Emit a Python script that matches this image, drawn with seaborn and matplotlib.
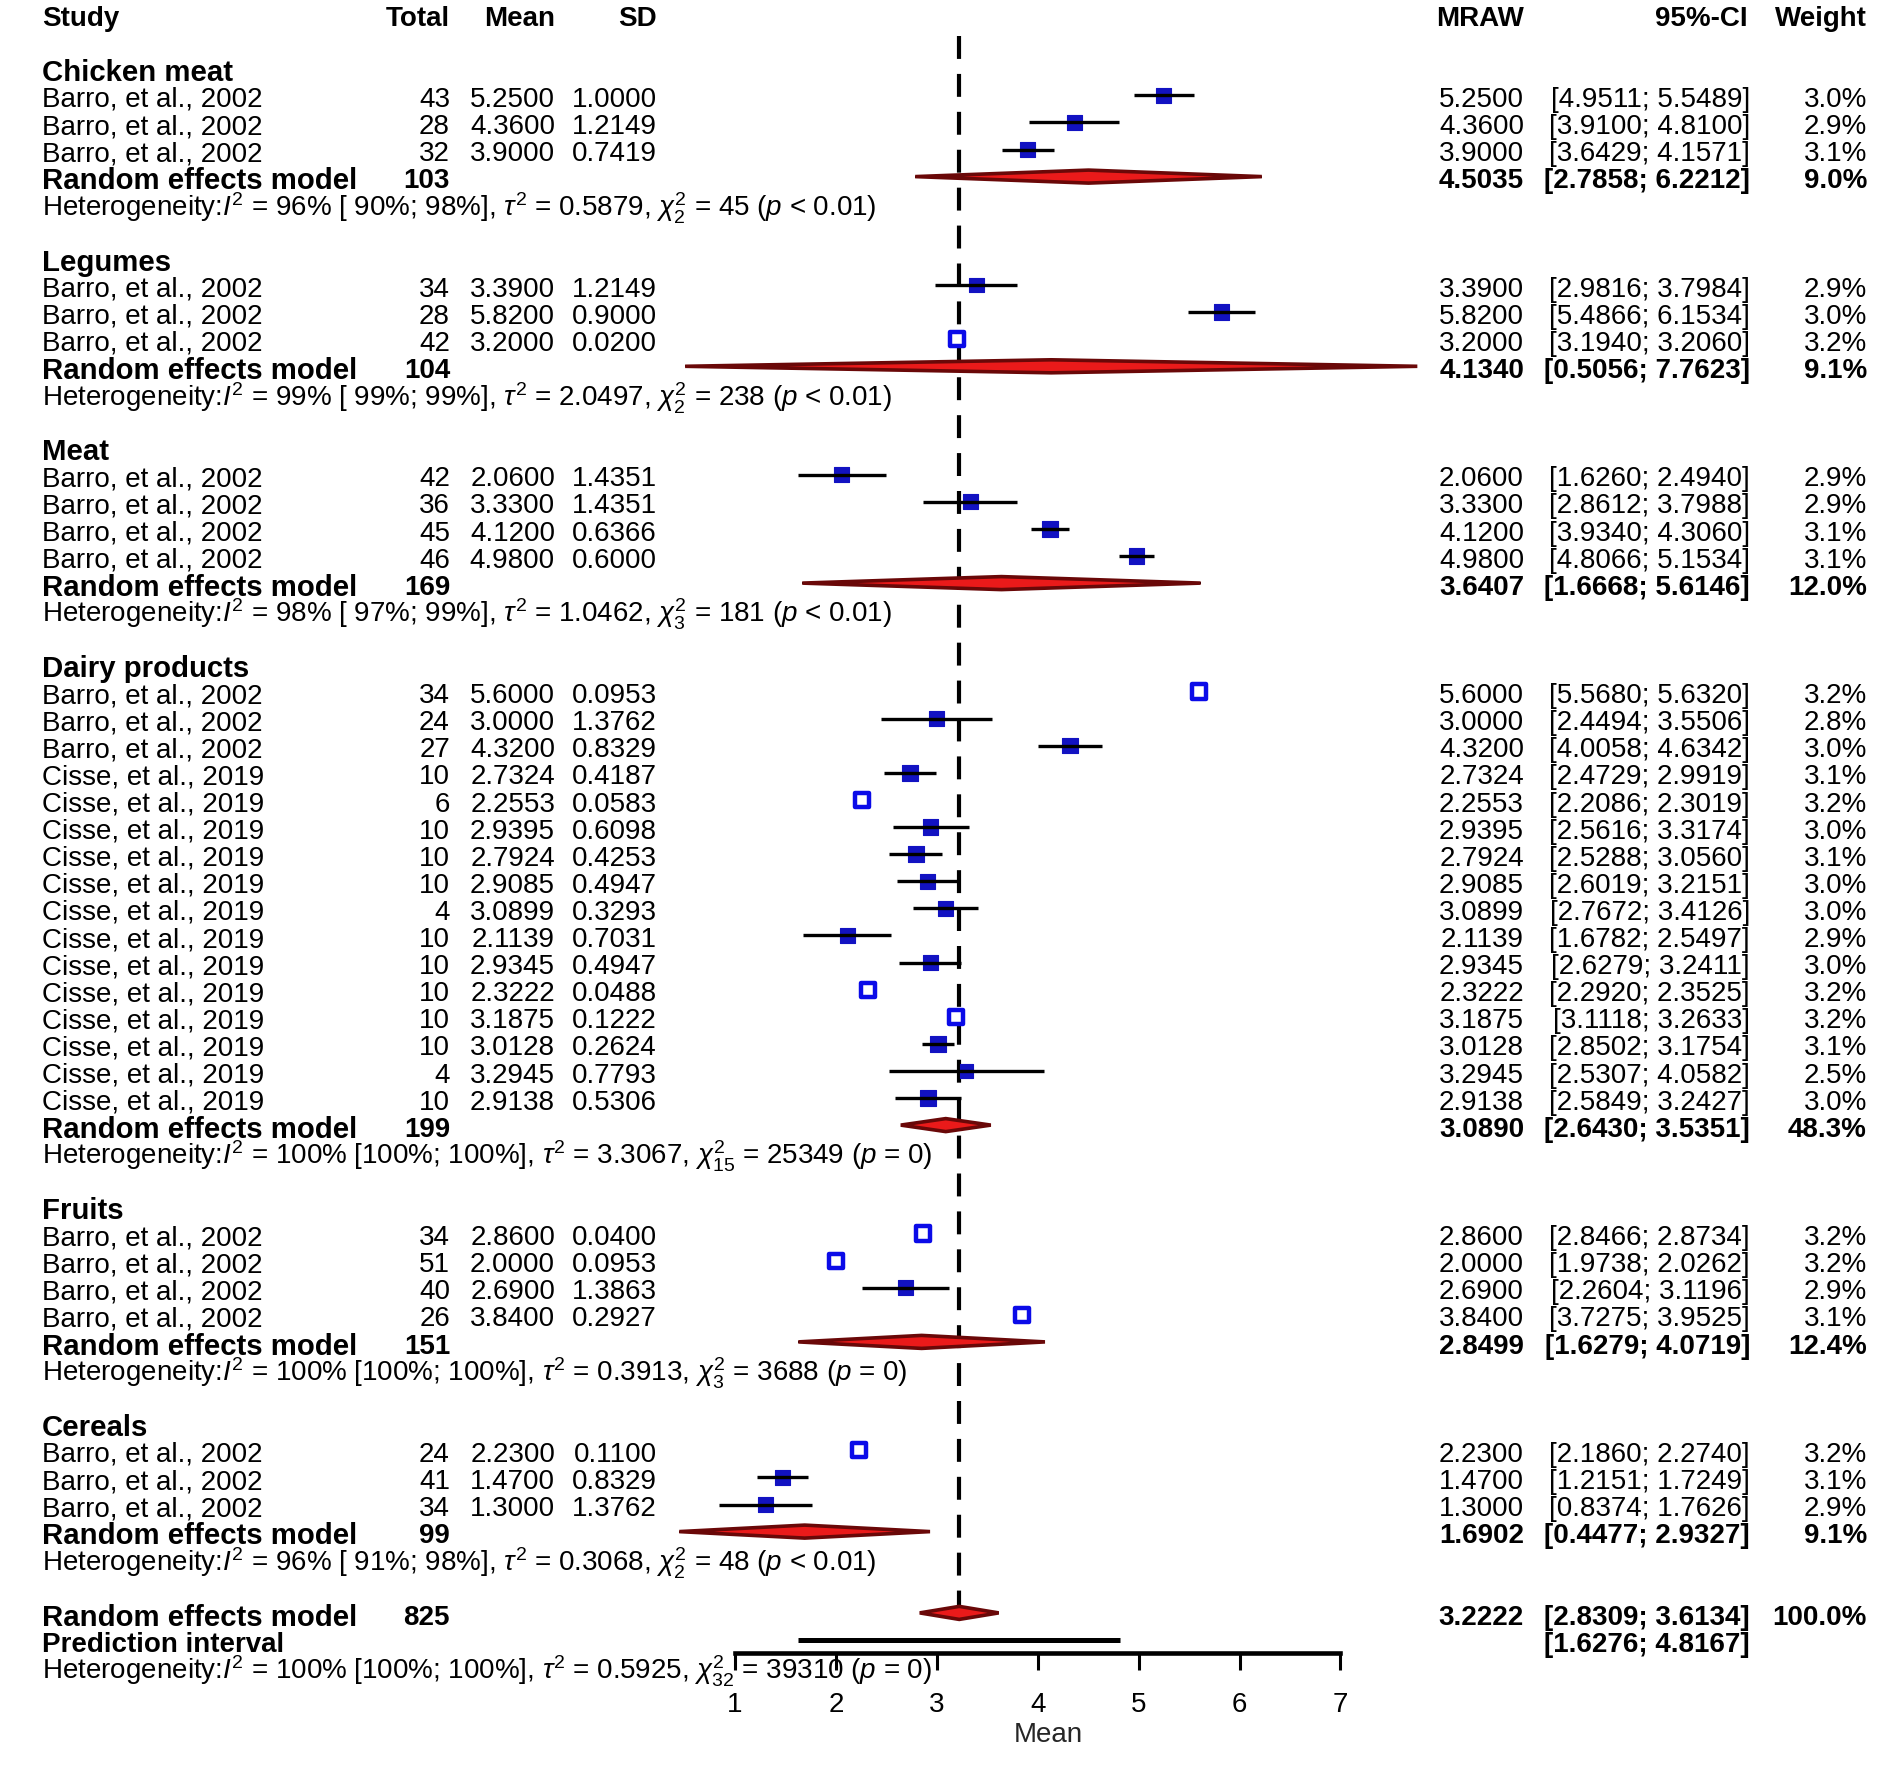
import matplotlib
matplotlib.use("Agg")
import numpy as np
import pandas as pd
import matplotlib.pyplot as plt
from matplotlib.patches import Polygon
from matplotlib.transforms import blended_transform_factory
import seaborn as sns

GROUPS = ["Chicken meat", "Legumes", "Meat", "Dairy products", "Fruits", "Cereals"]
GROUP_SIZE = [3, 3, 4, 16, 4, 3]

STUDY = (["Barro, et al., 2002"] * 13 + ["Cisse, et al., 2019"] * 13
         + ["Barro, et al., 2002"] * 7)
TOTAL = [43, 28, 32, 34, 28, 42, 42, 36, 45, 46,
         34, 24, 27, 10, 6, 10, 10, 10, 4, 10, 10, 10, 10, 10, 4, 10,
         34, 51, 40, 26, 24, 41, 34]
MEAN = [5.2500, 4.3600, 3.9000, 3.3900, 5.8200, 3.2000, 2.0600, 3.3300, 4.1200, 4.9800,
        5.6000, 3.0000, 4.3200, 2.7324, 2.2553, 2.9395, 2.7924, 2.9085, 3.0899, 2.1139,
        2.9345, 2.3222, 3.1875, 3.0128, 3.2945, 2.9138,
        2.8600, 2.0000, 2.6900, 3.8400, 2.2300, 1.4700, 1.3000]
SD = [1.0000, 1.2149, 0.7419, 1.2149, 0.9000, 0.0200, 1.4351, 1.4351, 0.6366, 0.6000,
      0.0953, 1.3762, 0.8329, 0.4187, 0.0583, 0.6098, 0.4253, 0.4947, 0.3293, 0.7031,
      0.4947, 0.0488, 0.1222, 0.2624, 0.7793, 0.5306,
      0.0400, 0.0953, 1.3863, 0.2927, 0.1100, 0.8329, 1.3762]
CI_LOW = [4.9511, 3.9100, 3.6429, 2.9816, 5.4866, 3.1940, 1.6260, 2.8612, 3.9340, 4.8066,
          5.5680, 2.4494, 4.0058, 2.4729, 2.2086, 2.5616, 2.5288, 2.6019, 2.7672, 1.6782,
          2.6279, 2.2920, 3.1118, 2.8502, 2.5307, 2.5849,
          2.8466, 1.9738, 2.2604, 3.7275, 2.1860, 1.2151, 0.8374]
CI_HIGH = [5.5489, 4.8100, 4.1571, 3.7984, 6.1534, 3.2060, 2.4940, 3.7988, 4.3060, 5.1534,
           5.6320, 3.5506, 4.6342, 2.9919, 2.3019, 3.3174, 3.0560, 3.2151, 3.4126, 2.5497,
           3.2411, 2.3525, 3.2633, 3.1754, 4.0582, 3.2427,
           2.8734, 2.0262, 3.1196, 3.9525, 2.2740, 1.7249, 1.7626]
WEIGHT = [3.0, 2.9, 3.1, 2.9, 3.0, 3.2, 2.9, 2.9, 3.1, 3.1,
          3.2, 2.8, 3.0, 3.1, 3.2, 3.0, 3.1, 3.0, 3.0, 2.9, 3.0, 3.2, 3.2, 3.1, 2.5, 3.0,
          3.2, 3.2, 2.9, 3.1, 3.2, 3.1, 2.9]

SUB_TOTAL = [103, 104, 169, 199, 151, 99]
SUB_EST = [4.5035, 4.1340, 3.6407, 3.0890, 2.8499, 1.6902]
SUB_LOW = [2.7858, 0.5056, 1.6668, 2.6430, 1.6279, 0.4477]
SUB_HIGH = [6.2212, 7.7623, 5.6146, 3.5351, 4.0719, 2.9327]
SUB_WEIGHT = [9.0, 9.1, 12.0, 48.3, 12.4, 9.1]
HET_I2 = [96, 99, 98, 100, 100, 96]
HET_I2_LOW = [90, 99, 97, 100, 100, 91]
HET_I2_HIGH = [98, 99, 99, 100, 100, 98]
HET_TAU2 = [0.5879, 2.0497, 1.0462, 3.3067, 0.3913, 0.3068]
HET_DF = [2, 2, 3, 15, 3, 2]
HET_Q = [45, 238, 181, 25349, 3688, 48]
HET_P = ["< 0.01", "< 0.01", "< 0.01", "= 0", "= 0", "< 0.01"]

ALL_TOTAL = 825
ALL_EST, ALL_LOW, ALL_HIGH, ALL_WEIGHT = 3.2222, 2.8309, 3.6134, 100.0
PI_LOW, PI_HIGH = 1.6276, 4.8167
ALL_HET = (100, 100, 100, 0.5925, 32, 39310, "= 0")

# ---------------- estilo / layout ----------------
W_PX, H_PX = 1902, 1778
PX_AT_1, PX_PER_UNIT = 735, 100.9      # donde cae x=1 y cuanto mide una unidad
ROW0_PX, ROW_PX = 14, 27.1             # alto de fila
FS = 20
FS_LABEL = 21.2       # subgrupos y "Random effects model" salen algo mas grandes
TXT_DY = 0.17         # el texto va un poco por debajo de la linea del IC
BLUE = "#1212c2"
BLUE_EDGE = "#0b0be8"
RED = "#ea1a1a"
DARKRED = "#6a0808"
BOX_W = 0.26          # si el IC cabe dentro del cuadrado se dibuja hueco
DIA_H = 0.24

COL_STUDY, COL_TOTAL, COL_MEAN, COL_SD = 42, 450, 555, 657
COL_MRAW, COL_CI, COL_W = 1524, 1750, 1867

sns.set_style("white")
plt.rcParams["font.family"] = ["Liberation Sans", "DejaVu Sans"]
plt.rcParams["mathtext.fontset"] = "custom"
plt.rcParams["mathtext.rm"] = "Liberation Sans"
plt.rcParams["mathtext.it"] = "Liberation Sans:italic"
plt.rcParams["mathtext.bf"] = "Liberation Sans:bold"
plt.rcParams["xtick.bottom"] = True

fig = plt.figure(figsize=(W_PX / 100, H_PX / 100), dpi=100)
ax = fig.add_axes([0, 0, 1, 1])
tr = blended_transform_factory(ax.transAxes, ax.transData)


def put(xpx, row, s, ha="left", bold=False, size=FS):
    ax.text(xpx / W_PX, row + TXT_DY, s, transform=tr, ha=ha, va="center", fontsize=size,
            fontweight="bold" if bold else "normal", color="black")


def het_text(i2, lo, hi, tau2, df, q, p):
    return (f"Heterogeneity:$I^2$ = {i2}% [{lo:>3}%; {hi}%], $\\tau^2$ = {tau2:.4f}, "
            f"$\\chi^2_{{{df}}}$ = {q} ($p$ {p})")


def diamond(row, est, lo, hi):
    ax.hlines(row, lo, hi, color="black", lw=1.4, zorder=4)
    ax.add_patch(Polygon([[lo, row], [est, row - DIA_H], [hi, row], [est, row + DIA_H]],
                         closed=True, facecolor=RED, edgecolor=DARKRED, lw=2.6, zorder=5))


# filas
study_rows, header_rows, rem_rows, het_rows = [], [], [], []
r = 2
for n in GROUP_SIZE:
    header_rows.append(r)
    study_rows.extend(range(r + 1, r + 1 + n))
    rem_rows.append(r + 1 + n)
    het_rows.append(r + 2 + n)
    r += n + 4
all_row, pi_row, all_het_row = r, r + 1, r + 2

df = pd.DataFrame({"study": STUDY, "total": TOTAL, "mean": MEAN, "sd": SD,
                   "low": CI_LOW, "high": CI_HIGH, "weight": WEIGHT, "row": study_rows})
df["hollow"] = (df["high"] - df["low"]) < BOX_W

# linea de referencia (estimacion global)
ax.vlines(ALL_EST, 0.8, all_row, colors="black", lw=3, linestyles=(0, (5.5, 3.6)), zorder=1)

# cuadrados de cada estudio
sns.scatterplot(data=df[~df.hollow], x="mean", y="row", size="weight", sizes=(0, 160),
                size_norm=(0, 4), marker="s", color=BLUE, edgecolor=BLUE,
                linewidth=0.8, legend=False, ax=ax, zorder=3)
sns.scatterplot(data=df[df.hollow], x="mean", y="row", size="weight", sizes=(0, 130),
                size_norm=(0, 4), marker="s", color=BLUE_EDGE, facecolor="white",
                edgecolor=BLUE_EDGE, linewidth=3.2, legend=False, ax=ax, zorder=3)
solid = df[~df.hollow]
ax.hlines(solid["row"], solid["low"], solid["high"], color="black", lw=2.4, zorder=4)

# diamantes
for i in range(len(GROUPS)):
    diamond(rem_rows[i], SUB_EST[i], SUB_LOW[i], SUB_HIGH[i])
diamond(all_row, ALL_EST, ALL_LOW, ALL_HIGH)
ax.hlines(pi_row, PI_LOW, PI_HIGH, color="black", lw=3.6, zorder=4)

# encabezado
put(COL_STUDY, 0, "Study", bold=True)
put(COL_TOTAL, 0, "Total", "right", True)
put(COL_MEAN, 0, "Mean", "right", True)
put(COL_SD, 0, "SD", "right", True)
put(COL_MRAW, 0, "MRAW", "right", True)
put(COL_CI - 2, 0, "95%-CI", "right", True)
put(COL_W, 0, "Weight", "right", True)

for _, s in df.iterrows():
    rr = s["row"]
    put(COL_STUDY, rr, s["study"])
    put(COL_TOTAL, rr, f"{int(s['total'])}", "right")
    put(COL_MEAN, rr, f"{s['mean']:.4f}", "right")
    put(COL_SD, rr, f"{s['sd']:.4f}", "right")
    put(COL_MRAW, rr, f"{s['mean']:.4f}", "right")
    put(COL_CI, rr, f"[{s['low']:.4f}; {s['high']:.4f}]", "right")
    put(COL_W, rr, f"{s['weight']:.1f}%", "right")

for i, g in enumerate(GROUPS):
    put(COL_STUDY, header_rows[i], g, bold=True, size=FS_LABEL)
    rr = rem_rows[i]
    put(COL_STUDY, rr, "Random effects model", bold=True, size=FS_LABEL)
    put(COL_TOTAL, rr, f"{SUB_TOTAL[i]}", "right", True)
    put(COL_MRAW, rr, f"{SUB_EST[i]:.4f}", "right", True)
    put(COL_CI, rr, f"[{SUB_LOW[i]:.4f}; {SUB_HIGH[i]:.4f}]", "right", True)
    put(COL_W, rr, f"{SUB_WEIGHT[i]:.1f}%", "right", True)
    put(COL_STUDY, het_rows[i], het_text(HET_I2[i], HET_I2_LOW[i], HET_I2_HIGH[i],
                                         HET_TAU2[i], HET_DF[i], HET_Q[i], HET_P[i]))

put(COL_STUDY, all_row, "Random effects model", bold=True, size=FS_LABEL)
put(COL_TOTAL, all_row, f"{ALL_TOTAL}", "right", True)
put(COL_MRAW, all_row, f"{ALL_EST:.4f}", "right", True)
put(COL_CI, all_row, f"[{ALL_LOW:.4f}; {ALL_HIGH:.4f}]", "right", True)
put(COL_W, all_row, f"{ALL_WEIGHT:.1f}%", "right", True)
put(COL_STUDY, pi_row, "Prediction interval", bold=True)
put(COL_CI, pi_row, f"[{PI_LOW:.4f}; {PI_HIGH:.4f}]", "right", True)
put(COL_STUDY, all_het_row, het_text(*ALL_HET))

# ejes
ax.set_xlim(1 - PX_AT_1 / PX_PER_UNIT, 1 + (W_PX - PX_AT_1) / PX_PER_UNIT)
ax.set_ylim((H_PX - ROW0_PX) / ROW_PX, -ROW0_PX / ROW_PX)
for side in ["top", "left", "right"]:
    ax.spines[side].set_visible(False)
ax.spines["bottom"].set_position(("data", all_row + 1.48))
ax.spines["bottom"].set_bounds(1, 7)
ax.spines["bottom"].set_linewidth(3.3)
ax.spines["bottom"].set_color("black")
ax.set_xticks(range(1, 8))
ax.set_yticks([])
ax.tick_params(axis="x", bottom=True, direction="out", length=12, width=2.2,
               labelsize=FS, pad=16, colors="black")
ax.set_ylabel("")
ax.set_xlabel("Mean", fontsize=FS, labelpad=3, x=0.551)
ax.set_facecolor("white")
ax.grid(False)

fig.savefig("out.png", dpi=100, facecolor="white")
